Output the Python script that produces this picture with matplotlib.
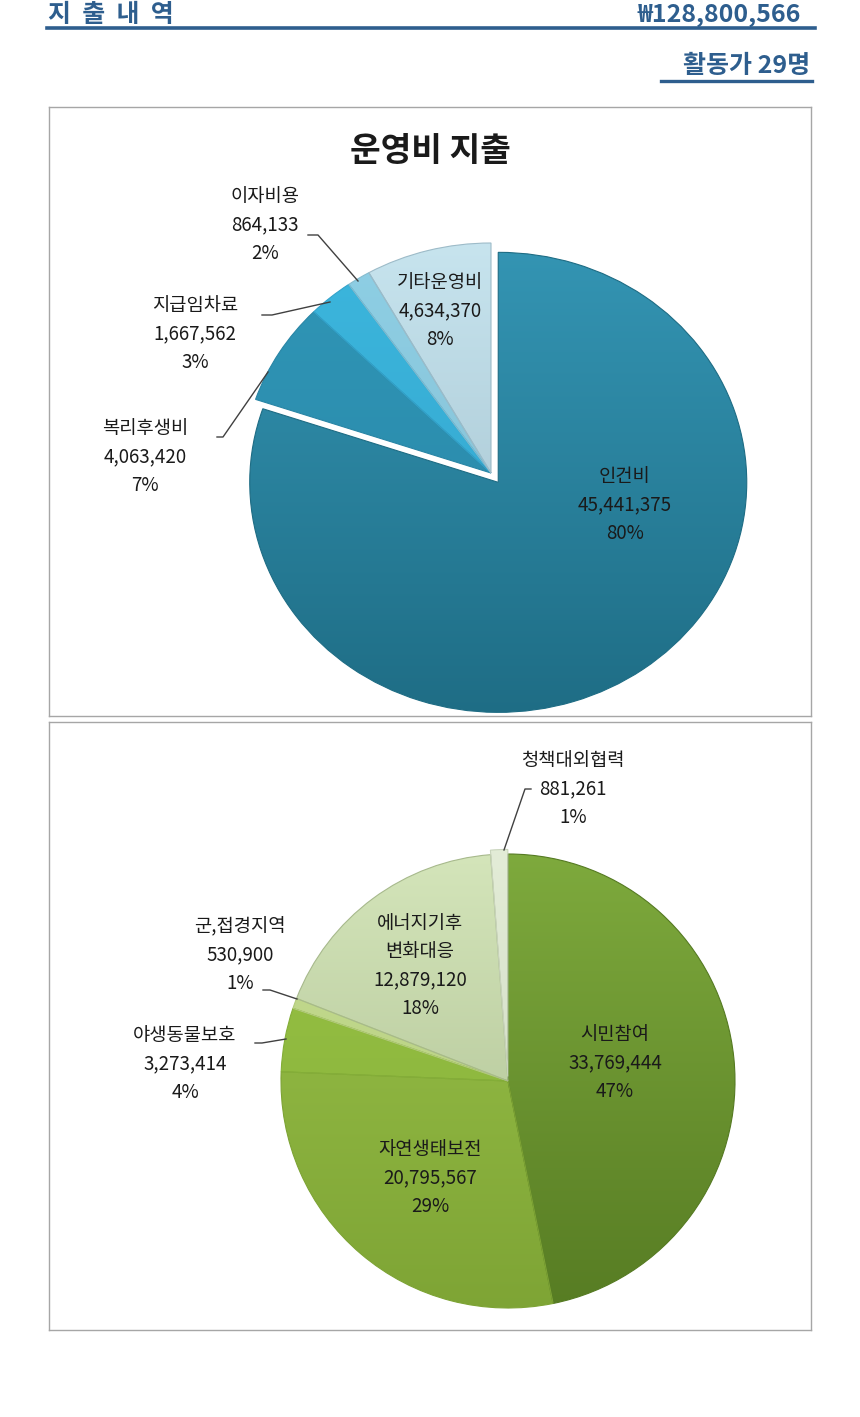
import matplotlib
matplotlib.use("Agg")
import matplotlib.pyplot as plt
import numpy as np
from matplotlib.colors import LinearSegmentedColormap
from matplotlib.lines import Line2D

plt.rcParams['font.family'] = ['Noto Sans CJK KR', 'DejaVu Sans']

# data
total_text = "₩128,800,566"
staff_text = "활동가 29명"

ops_title = "운영비 지출"
ops_names = ["인건비", "복리후생비", "지급임차료", "이자비용", "기타운영비"]
ops_values = [45441375, 4063420, 1667562, 864133, 4634370]
ops_pct = [80, 7, 3, 2, 8]

act_names = ["시민참여", "자연생태보전", "야생동물보호", "군,접경지역", "에너지기후\n변화대응", "청책대외협력"]
act_values = [33769444, 20795567, 3273414, 530900, 12879120, 881261]
act_pct = [47, 29, 4, 1, 18, 1]

# styling
ops_top = ["#3597B6", "#3097B8", "#3CB7DE", "#8ED0E6", "#C9E6F0"]
ops_bot = ["#1E6C84", "#2885A5", "#33A3CB", "#86BCCF", "#9DBBC8"]
act_top = ["#80AC3E", "#9CC44B", "#9AC446", "#C6DD92", "#D6E7BC", "#E4EDD8"]
act_bot = ["#557A22", "#7DA334", "#84AE38", "#B3CB7C", "#A7B98C", "#C9D4BC"]

W, H = 860, 1417
fig = plt.figure(figsize=(W / 100, H / 100), dpi=100)
fig.patch.set_facecolor("white")
HEAD = "#2E5E8E"


def fp(x, y):
    return x / W, 1 - y / H


def ftext(x, y, s, **kw):
    fig.text(*fp(x, y), s, **kw)


def fline(pts, color="#404040", lw=1.0):
    xs = [p[0] / W for p in pts]
    ys = [1 - p[1] / H for p in pts]
    fig.add_artist(Line2D(xs, ys, color=color, lw=lw, transform=fig.transFigure))


# header
ftext(48, 15, "지  출  내  역", fontsize=18, color=HEAD, ha="left", va="center", weight="bold")
ftext(801, 15, total_text, fontsize=18, color=HEAD, ha="right", va="center", weight="bold")
fline([(47, 28), (815, 28)], color=HEAD, lw=2.6)
ftext(810, 66, staff_text, fontsize=18, color=HEAD, ha="right", va="center", weight="bold")
fline([(661, 81), (812, 81)], color=HEAD, lw=2.4)


def pie_axes(box, center, rx, ry):
    x0, y0, x1, y1 = box
    cx, cy = center
    ax = fig.add_axes([x0 / W, 1 - y1 / H, (x1 - x0) / W, (y1 - y0) / H])
    return ax, ((x0 - cx) / rx, (x1 - cx) / rx), ((cy - y1) / ry, (cy - y0) / ry)


def draw_pie(ax, xl, yl, values, explode, tops, bots):
    wedges, _ = ax.pie(values, startangle=90, counterclock=False, explode=explode,
                       frame=True, wedgeprops=dict(linewidth=0.8))
    grad = np.linspace(0, 1, 256).reshape(-1, 1)
    for w, ct, cb in zip(wedges, tops, bots):
        cmap = LinearSegmentedColormap.from_list("g", [ct, cb])
        im = ax.imshow(grad, cmap=cmap, extent=(-1.1, 1.1, -1.1, 1.1), origin="upper",
                       aspect="auto", zorder=2, interpolation="bilinear")
        im.set_clip_path(w)
        w.set_facecolor("none")
        w.set_edgecolor(matplotlib.colors.to_rgba(cb, 1.0))
        w.set_zorder(3)
    ax.set_aspect("auto")
    ax.set_xlim(*xl)
    ax.set_ylim(*yl)
    ax.set_xticks([])
    ax.set_yticks([])
    for s in ax.spines.values():
        s.set_color("#A6A6A6")
        s.set_linewidth(1.0)
    return wedges


def label(name, value, pct):
    return f"{name}\n{value:,}\n{pct}%"


LBL = dict(fontsize=13.5, ha="center", va="center", color="#1A1A1A", linespacing=1.45,
           weight="medium")

# top pie: operating costs
ax1, xl1, yl1 = pie_axes((49, 107, 811, 716), (491, 473), 248.5, 230)
draw_pie(ax1, xl1, yl1, ops_values, [0.05, 0, 0, 0, 0], ops_top, ops_bot)
ftext(430, 151, ops_title, fontsize=24, weight="bold", ha="center", va="center", color="#1A1A1A")

ops_pos = [(625, 505), (145, 457), (195, 334), (265, 225), (440, 311)]
for n, v, p, pos in zip(ops_names, ops_values, ops_pct, ops_pos):
    ftext(pos[0], pos[1], label(n, v, p), **LBL)
fline([(308, 235), (318, 235), (358, 281)])
fline([(262, 315), (272, 315), (330, 302)])
fline([(217, 437), (223, 437), (268, 372)])

# bottom pie: activity costs
ax2, xl2, yl2 = pie_axes((49, 722, 811, 1330), (508, 1081), 227, 227)
draw_pie(ax2, xl2, yl2, act_values, [0, 0, 0, 0, 0, 0.02], act_top, act_bot)

act_pos = [(615, 1063), (430, 1178), (185, 1064), (240, 955), (420, 966), (573, 789)]
for n, v, p, pos in zip(act_names, act_values, act_pct, act_pos):
    ftext(pos[0], pos[1], label(n, v, p), **LBL)
fline([(531, 789), (525, 789), (504, 850)])
fline([(263, 990), (270, 990), (297, 999)])
fline([(255, 1043), (262, 1043), (286, 1039)])

fig.savefig("out.png", dpi=100)
